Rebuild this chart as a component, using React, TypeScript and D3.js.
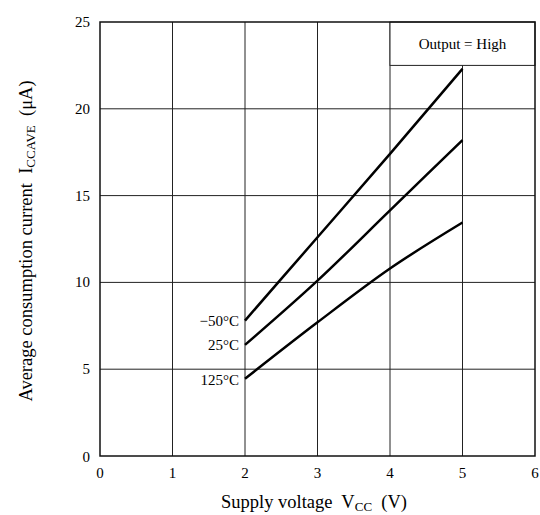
import React, { useEffect, useRef } from 'react';
import * as d3 from 'd3';

const voltages = [2, 3, 4, 5];
const seriesNames = ['−50°C', '25°C', '125°C'];
const iccMinus50 = [7.8, 12.6, 17.4, 22.3];
const icc25 = [6.4, 10.1, 14.15, 18.2];
const icc125 = [4.45, 7.7, 10.8, 13.45];
const xTicks = [0, 1, 2, 3, 4, 5, 6];
const yTicks = [0, 5, 10, 15, 20, 25];

const App = () => {
  const ref = useRef<SVGSVGElement>(null);

  useEffect(() => {
    const svg = d3.select(ref.current);
    svg.selectAll('*').remove();

    const m = { left: 100, right: 535, top: 22, bottom: 456 };
    const x = d3.scaleLinear().domain([0, 6]).range([m.left, m.right]);
    const y = d3.scaleLinear().domain([0, 25]).range([m.bottom, m.top]);
    const font = "'Liberation Serif', 'Times New Roman', serif";

    const g = svg.append('g');

    // grid
    g.selectAll('line.vx')
      .data(xTicks.slice(1, -1))
      .enter()
      .append('line')
      .attr('x1', d => x(d)).attr('x2', d => x(d))
      .attr('y1', m.top).attr('y2', m.bottom)
      .attr('stroke', '#222').attr('stroke-width', 1);
    g.selectAll('line.hy')
      .data(yTicks.slice(1, -1))
      .enter()
      .append('line')
      .attr('x1', m.left).attr('x2', m.right)
      .attr('y1', d => y(d)).attr('y2', d => y(d))
      .attr('stroke', '#222').attr('stroke-width', 1);

    // legend box covers the grid
    g.append('rect')
      .attr('x', x(4)).attr('y', m.top)
      .attr('width', x(6) - x(4)).attr('height', y(22.5) - m.top)
      .attr('fill', 'white').attr('stroke', '#222').attr('stroke-width', 1);
    g.append('text')
      .attr('x', (x(4) + x(6)) / 2).attr('y', (m.top + y(22.5)) / 2 + 5)
      .attr('text-anchor', 'middle')
      .style('font-family', font).style('font-size', '15px')
      .text('Output = High');

    // frame
    g.append('rect')
      .attr('x', m.left).attr('y', m.top)
      .attr('width', m.right - m.left).attr('height', m.bottom - m.top)
      .attr('fill', 'none').attr('stroke', '#111').attr('stroke-width', 1.5);

    // curves
    const series = [iccMinus50, icc25, icc125];
    const line = d3.line<number>()
      .x((_, i) => x(voltages[i]))
      .y(d => y(d))
      .curve(d3.curveMonotoneX);
    series.forEach((s, k) => {
      g.append('path')
        .attr('d', line(s))
        .attr('fill', 'none')
        .attr('stroke', 'black')
        .attr('stroke-width', 2.5);
      g.append('text')
        .attr('x', x(2) - 6)
        .attr('y', y(s[0]) + 5 + (k === 2 ? 1 : 0))
        .attr('text-anchor', 'end')
        .style('font-family', font).style('font-size', '15px')
        .text(seriesNames[k]);
    });

    // tick labels
    g.selectAll('text.xt')
      .data(xTicks)
      .enter()
      .append('text')
      .attr('x', d => x(d)).attr('y', 478)
      .attr('text-anchor', 'middle')
      .style('font-family', font).style('font-size', '15px')
      .text(d => d);
    g.selectAll('text.yt')
      .data(yTicks)
      .enter()
      .append('text')
      .attr('x', 90).attr('y', d => y(d) + (d === 0 ? 6 : 5))
      .attr('text-anchor', 'end')
      .style('font-family', font).style('font-size', '15px')
      .text(d => d);

    // axis titles
    const xt = g.append('text')
      .attr('x', 314).attr('y', 508)
      .attr('text-anchor', 'middle')
      .style('font-family', font).style('font-size', '18.5px')
      .style('white-space', 'pre');
    xt.append('tspan').text('Supply voltage  V');
    xt.append('tspan').attr('dy', 3).style('font-size', '13px').text('CC');
    xt.append('tspan').attr('dy', -3).text('  (V)');

    const yt = g.append('text')
      .attr('transform', `translate(32, 241) rotate(-90)`)
      .attr('text-anchor', 'middle')
      .style('font-family', font).style('font-size', '18.5px')
      .style('white-space', 'pre');
    yt.append('tspan').text('Average consumption current  I');
    yt.append('tspan').attr('dy', 3).style('font-size', '13px').text('CCAVE');
    yt.append('tspan').attr('dy', -3).text('  (μA)');
  }, []);

  return (
    <svg
      ref={ref}
      width={540}
      height={515}
      style={{ position: 'absolute', left: 0, top: 0, background: 'white' }}
    />
  );
};

export default App;
